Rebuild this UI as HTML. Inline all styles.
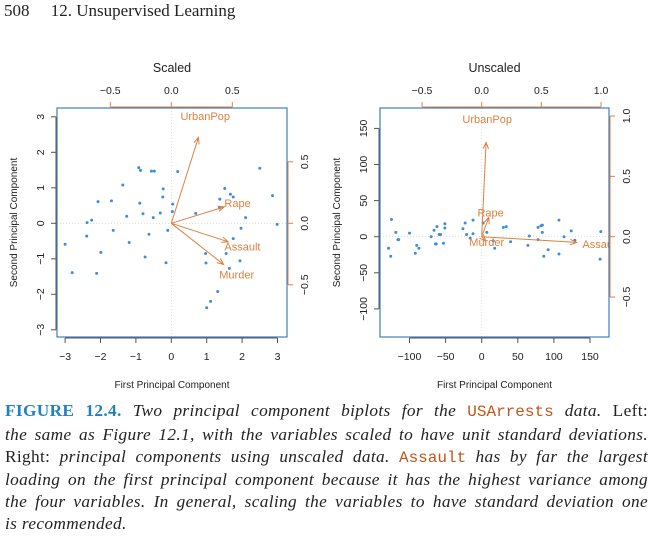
<!DOCTYPE html>
<html><head><meta charset="utf-8"><style>
body{margin:0;background:#fff;width:652px;height:550px;overflow:hidden;position:relative;font-family:"Liberation Serif",serif}
#hdr{position:absolute;left:4px;top:1px;font-size:17px;color:#222}
#cap{position:absolute;left:5px;top:400px;width:643px;font-size:17.3px;line-height:21.8px;color:#222;letter-spacing:0.35px}
#cap div{text-align:justify;text-align-last:justify;white-space:nowrap}
#cap div.last{text-align-last:left}
.tt{font-family:"Liberation Mono",monospace;color:#c0561c;font-style:normal;font-size:16px;letter-spacing:0}
.fig{color:#1f82c0;font-weight:bold;font-style:normal}
svg text{font-family:"Liberation Sans",sans-serif}
</style></head><body>
<div id="hdr">508&nbsp;&nbsp;&nbsp;&nbsp;&nbsp;12. Unsupervised Learning</div>
<svg id="svg" width="652" height="400" style="position:absolute;left:0;top:0"></svg>
<div id="cap">
<div><span class="fig">FIGURE 12.4.</span> <i>Two principal component biplots for the</i> <span class="tt">USArrests</span> <i>data.</i> Left:</div>
<div><i>the same as Figure 12.1, with the variables scaled to have unit standard deviations.</i></div>
<div>Right: <i>principal components using unscaled data.</i> <span class="tt">Assault</span> <i>has by far the largest</i></div>
<div><i>loading on the first principal component because it has the highest variance among</i></div>
<div><i>the four variables. In general, scaling the variables to have standard deviation one</i></div>
<div class="last"><i>is recommended.</i></div>
</div>
<script>
const varNames=["Murder","Assault","UrbanPop","Rape"];
const scaledLoadX=[0.536,0.583,0.278,0.543];
const scaledLoadY=[-0.418,-0.188,0.873,0.167];
const unscaledLoadX=[0.042,0.995,0.046,0.075];
const unscaledLoadY=[-0.045,-0.059,0.977,0.201];
const scaledX=[-3.0,-2.8,-2.38,-2.25,-2.39,-2.07,-2.11,-1.99,-1.69,-1.64,-1.37,-1.26,-1.19,-0.92,-0.87,-0.89,-0.8,-0.74,-0.63,-0.56,-0.48,-0.51,-0.31,-0.23,-0.24,-0.15,-0.1,0.04,0.03,0.18,0.69,0.97,0.98,1.0,1.11,1.31,1.36,1.37,1.51,1.55,1.64,1.67,1.75,1.75,1.94,1.97,2.1,2.5,2.86,2.99];
const scaledY=[-0.59,-1.39,0.02,0.09,-0.36,0.61,-1.41,-0.82,0.63,-0.2,1.08,0.2,-0.54,1.57,1.49,0.57,0.27,-0.95,-0.31,1.47,1.47,0.16,0.29,0.97,0.74,-1.11,-0.2,0.54,0.33,1.46,0.28,-0.85,-1.12,-2.38,-2.2,-1.92,0.43,0.68,0.98,-0.85,-1.27,0.82,0.74,-0.43,-1.06,-0.14,0.16,1.55,0.78,-0.03];
const unscaledX=[-125,-129,-126,-119,-116,-115,-100,-92,-90,-87,-70,-66,-62,-64,-63,-59,-57,-53,-51,-51,-26,-23,-21,-16,-12,-12,2,7,16,18,30,34,40,64,66,78,78,82,84,84,86,92,107,107,114,124,129,165,164];
const unscaledY=[24,-16,-27,6,-4,-4,5,-23,-12,-16,0,9,14,-10,-10,3,3,-9,18,12,11,19,3,-2,23,4,19,6,-6,-16,13,14,-7,-12,1,-4,13,15,16,6,-27,-18,23,-24,0,8,-5,7,-31];
const scaledTicks=[-3,-2,-1,0,1,2,3];
const scaledLoadTicksTop=[-0.5,0,0.5];
const scaledLoadTicksRight=[-0.5,0,0.5];
const unscaledTicksX=[-100,-50,0,50,100,150];
const unscaledTicksY=[-100,-50,0,50,100,150];
const unscaledLoadTicks=[-0.5,0,0.5,1.0];

const NS="http://www.w3.org/2000/svg";
const svg=document.getElementById('svg');
const ORANGE="#e0803f",BLUE="#3f8fd8",BOX="#3d7fc0",AX="#555";
function mk(tag,attrs,parent,txt){const e=document.createElementNS(NS,tag);for(const k in attrs)e.setAttribute(k,attrs[k]);if(txt!==undefined)e.textContent=txt;(parent||svg).appendChild(e);return e;}
function fmt(v){return String(v).replace('-','\u2212');}
function fmtL(v){return v.toFixed(1).replace('-','\u2212');}

function panel(cfg){
  const g=mk('g',{});
  
  
  const sx=v=>cfg.x0+v*cfg.kx, sy=v=>cfg.y0-v*cfg.ky;
  const lx=v=>cfg.x0+v*cfg.lkx, ly=v=>cfg.y0-v*cfg.lky;
  const cid='clip'+cfg.name;
  const cp=mk('clipPath',{id:cid},g);mk('rect',{x:cfg.L,y:cfg.T,width:cfg.R-cfg.L,height:cfg.B-cfg.T},cp);
  const z1=mk('line',{x1:cfg.L,x2:cfg.R,y1:cfg.y0,y2:cfg.y0,stroke:"#ccc","stroke-width":0.6,"stroke-dasharray":"1,2"},g);
  
  const z2=mk('line',{x1:cfg.x0,x2:cfg.x0,y1:cfg.T,y2:cfg.B,stroke:"#ccc","stroke-width":0.6,"stroke-dasharray":"1,2"},g);
  
  cfg.px.forEach((v,i)=>{const c=mk('circle',{cx:sx(v),cy:sy(cfg.py[i]),r:1.5,fill:BLUE},g);
    });
  const ag=mk('g',{'clip-path':`url(#${cid})`},g);
  varNames.forEach((n,i)=>{
    const tx=lx(cfg.lx[i]*0.8),ty=ly(cfg.ly[i]*0.8),ox=cfg.x0,oy=cfg.y0;
    const a=Math.atan2(ty-oy,tx-ox),h=7,w=0.4;
    const l=mk('path',{d:`M${ox},${oy}L${tx},${ty}M${tx-h*Math.cos(a-w)},${ty-h*Math.sin(a-w)}L${tx},${ty}L${tx-h*Math.cos(a+w)},${ty-h*Math.sin(a+w)}`,stroke:ORANGE,fill:"none","stroke-width":1},ag);
    
    const t=mk('text',{x:lx(cfg.lx[i]),y:ly(cfg.ly[i])+4,'text-anchor':'middle','font-size':11,fill:ORANGE},ag,n);
    
  });
  const bx=mk('rect',{x:cfg.L,y:cfg.T,width:cfg.R-cfg.L,height:cfg.B-cfg.T,fill:'none',stroke:BOX,'stroke-width':1.2},g);
  
  cfg.xt.forEach(v=>{mk('line',{x1:sx(v),x2:sx(v),y1:cfg.B+1,y2:cfg.B+6,stroke:AX},g);
    const t=mk('text',{x:sx(v),y:cfg.B+23,'text-anchor':'middle','font-size':10.5,fill:'#222'},g,fmt(v));
    });
  mk('line',{x1:sx(cfg.xt[0]),x2:sx(cfg.xt[cfg.xt.length-1]),y1:cfg.B+1,y2:cfg.B+1,stroke:AX},g);
  cfg.yt.forEach(v=>{mk('line',{x1:cfg.L-1,x2:cfg.L-6,y1:sy(v),y2:sy(v),stroke:AX},g);
    const t=mk('text',{x:0,y:0,transform:`translate(${cfg.L-13},${sy(v)}) rotate(-90)`,'text-anchor':'middle','font-size':10.5,fill:'#222'},g,fmt(v));
    });
  mk('line',{x1:cfg.L-1,x2:cfg.L-1,y1:sy(cfg.yt[0]),y2:sy(cfg.yt[cfg.yt.length-1]),stroke:AX},g);
  cfg.tt.forEach(v=>{mk('line',{x1:lx(v),x2:lx(v),y1:cfg.T-1,y2:cfg.T-6,stroke:ORANGE},g);
    const t=mk('text',{x:lx(v),y:cfg.T-14,'text-anchor':'middle','font-size':10.5,fill:'#222'},g,fmtL(v));
    });
  mk('line',{x1:lx(cfg.tt[0]),x2:lx(cfg.tt[cfg.tt.length-1]),y1:cfg.T-1,y2:cfg.T-1,stroke:ORANGE},g);
  cfg.rt.forEach(v=>{mk('line',{x1:cfg.R+1,x2:cfg.R+6,y1:ly(v),y2:ly(v),stroke:ORANGE},g);
    const t=mk('text',{x:0,y:0,transform:`translate(${cfg.R+21},${ly(v)}) rotate(-90)`,'text-anchor':'middle','font-size':10.5,fill:'#222'},g,fmtL(v));
    });
  mk('line',{x1:cfg.R+1,x2:cfg.R+1,y1:ly(cfg.rt[0]),y2:ly(cfg.rt[cfg.rt.length-1]),stroke:ORANGE},g);
  const ti=mk('text',{x:(cfg.L+cfg.R)/2,y:72,'text-anchor':'middle','font-size':12.5,fill:'#222'},g,cfg.title);
  
  const xt=mk('text',{x:(cfg.L+cfg.R)/2,y:388,'text-anchor':'middle','font-size':10,fill:'#222'},g,'First Principal Component');
  
  const yt=mk('text',{x:0,y:0,transform:`translate(${cfg.L-40},${(cfg.T+cfg.B)/2}) rotate(-90)`,'text-anchor':'middle','font-size':10,fill:'#222'},g,'Second Principal Component');
  
}
panel({name:'scaled',title:'Scaled',L:57,R:287,T:108,B:337,x0:171.3,y0:223.3,kx:35.4,ky:35.5,lkx:122,lky:123,
  px:scaledX,py:scaledY,lx:scaledLoadX,ly:scaledLoadY,xt:scaledTicks,yt:scaledTicks,tt:scaledLoadTicksTop,rt:scaledLoadTicksRight});
panel({name:'unscaled',title:'Unscaled',L:380,R:609,T:108,B:337,x0:481.7,y0:236.7,kx:0.722,ky:0.722,lkx:119.3,lky:120.7,
  px:unscaledX,py:unscaledY,lx:unscaledLoadX,ly:unscaledLoadY,xt:unscaledTicksX,yt:unscaledTicksY,tt:unscaledLoadTicks,rt:unscaledLoadTicks});
</script>
</body></html>
